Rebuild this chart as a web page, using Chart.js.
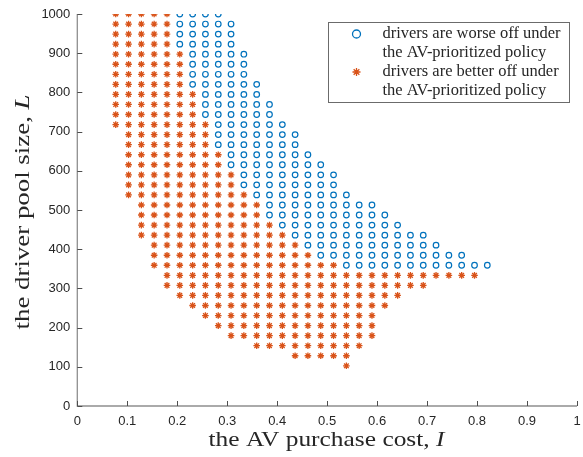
<!DOCTYPE html>
<html>
<head>
<meta charset="utf-8">
<script src="https://cdn.jsdelivr.net/npm/chart.js@4.4.1/dist/chart.umd.min.js"></script>
<style>
  html, body { margin: 0; padding: 0; background: #fff; }
  #wrap { width: 583px; height: 457px; }
</style>
</head>
<body>
<div id="wrap"><canvas id="policyChart" width="583" height="457"></canvas></div>
<script>
// AV purchase cost grid (the columns of the sweep)
const costGrid = [0.0769, 0.1026, 0.1282, 0.1538, 0.1795, 0.2051, 0.2308, 0.2564, 0.2821, 0.3077,
                  0.3333, 0.3590, 0.3846, 0.4103, 0.4359, 0.4615, 0.4872, 0.5128, 0.5385, 0.5641,
                  0.5897, 0.6154, 0.6410, 0.6667, 0.6923, 0.7179, 0.7436, 0.7692, 0.7949, 0.8205];

// driver pool size of each row, top to bottom
const poolSize = [1000, 974.4, 948.7, 923.1, 897.4, 871.8, 846.2, 820.5, 794.9, 769.2,
                  743.6, 717.9, 692.3, 666.7, 641.0, 615.4, 589.7, 564.1, 538.5, 512.8,
                  487.2, 461.5, 435.9, 410.3, 384.6, 359.0, 333.3, 307.7, 282.1, 256.4,
                  230.8, 205.1, 179.5, 153.8, 128.2, 102.6];

// per row: first and last costGrid column with "better off" (stars)
const betterFrom = [0,0,0,0,0,0,0,0,0,0,0,0, 1,1,1,1,1,1,1, 2,2,2,2, 3,3,3, 4,4, 5, 6, 7, 8, 9, 11, 14, 18];
const betterTo   = [4,4,4,4, 5,5,5,5, 6,6,6, 7,7,7, 8,8, 9,9, 10, 11,11, 12, 13, 14, 15, 17,
                    28, 24, 22, 21, 20, 20, 20, 19, 18, 18];
// per row: last costGrid column with "worse off" (circles), -1 = none
const worseTo    = [8, 9,9,9, 10,10,10, 11,11, 12,12, 13, 14,14, 15, 16, 17,17, 18, 20, 21, 22, 24, 25, 27, 29,
                    -1,-1,-1,-1,-1,-1,-1,-1,-1,-1];

const xTickValues = [0, 0.1, 0.2, 0.3, 0.4, 0.5, 0.6, 0.7, 0.8, 0.9, 1];
const xTickLabels = ['0', '0.1', '0.2', '0.3', '0.4', '0.5', '0.6', '0.7', '0.8', '0.9', '1'];
const yTickValues = [0, 100, 200, 300, 400, 500, 600, 700, 800, 900, 1000];
const yTickLabels = ['0', '100', '200', '300', '400', '500', '600', '700', '800', '900', '1000'];

const legendLines = ['drivers are worse off under', 'the AV-prioritized policy',
                     'drivers are better off under', 'the AV-prioritized policy'];

const BLUE = '#0072BD';
const ORANGE = '#D95319';

// build the point lists from the row table
const worsePts = [];
const betterPts = [];
poolSize.forEach((L, r) => {
    for (let c = betterFrom[r]; c <= betterTo[r]; c++) {
        betterPts.push({x: costGrid[c], y: L});
    }
    for (let c = betterTo[r] + 1; c <= worseTo[r]; c++) {
        worsePts.push({x: costGrid[c], y: L});
    }
});

// draw text made of normal/italic pieces, centred on x, stretched to a given width
function drawMixed(ctx, parts, x, y, size, targetW) {
    const fontOf = p => (p[1] ? 'italic ' : '') + size + 'px "Liberation Serif"';
    let total = 0;
    parts.forEach(p => { ctx.font = fontOf(p); total += ctx.measureText(p[0]).width; });
    const sx = targetW / total;
    ctx.save();
    ctx.translate(x - targetW / 2, y);
    ctx.scale(sx, 1);
    ctx.textAlign = 'left';
    let cx = 0;
    parts.forEach(p => {
        ctx.font = fontOf(p);
        ctx.fillText(p[0], cx, 0);
        cx += ctx.measureText(p[0]).width;
    });
    ctx.restore();
}

const matlabAxes = {
    id: 'matlabAxes',
    afterDraw(chart) {
        const {ctx, chartArea: a, scales: {x, y}} = chart;
        ctx.save();
        // axis lines
        ctx.strokeStyle = '#8f8f8f';
        ctx.lineWidth = 1.3;
        ctx.beginPath();
        ctx.moveTo(a.left, a.top);
        ctx.lineTo(a.left, a.bottom);
        ctx.lineTo(a.right, a.bottom);
        ctx.stroke();
        // inward ticks
        ctx.strokeStyle = '#4d4d4d';
        ctx.lineWidth = 1;
        ctx.beginPath();
        xTickValues.forEach(v => {
            const px = Math.round(x.getPixelForValue(v)) + 0.5;
            ctx.moveTo(px, a.bottom);
            ctx.lineTo(px, a.bottom - 5);
        });
        yTickValues.forEach(v => {
            const py = Math.round(y.getPixelForValue(v)) + 0.5;
            ctx.moveTo(a.left, py);
            ctx.lineTo(a.left + 5, py);
        });
        ctx.stroke();

        // axis titles
        ctx.fillStyle = '#262626';
        ctx.textBaseline = 'middle';
        drawMixed(ctx, [['the AV purchase cost, ', false], ['I', true]], 326.5, 440, 21, 236);
        ctx.save();
        ctx.translate(23, 212);
        ctx.rotate(-Math.PI / 2);
        drawMixed(ctx, [['the driver pool size, ', false], ['L', true]], 0, 0, 21, 235);
        ctx.restore();

        // legend
        ctx.fillStyle = '#fff';
        ctx.fillRect(328.5, 22.5, 241, 80);
        ctx.strokeStyle = '#6b6b6b';
        ctx.lineWidth = 1;
        ctx.strokeRect(328.5, 22.5, 241, 80);
        ctx.strokeStyle = BLUE;
        ctx.lineWidth = 1.3;
        ctx.beginPath();
        ctx.arc(356.5, 34, 4, 0, Math.PI * 2);
        ctx.stroke();
        ctx.strokeStyle = ORANGE;
        ctx.beginPath();
        for (let i = 0; i < 4; i++) {
            const ang = i * Math.PI / 4;
            ctx.moveTo(356.5 - 4 * Math.cos(ang), 72 - 4 * Math.sin(ang));
            ctx.lineTo(356.5 + 4 * Math.cos(ang), 72 + 4 * Math.sin(ang));
        }
        ctx.stroke();
        ctx.fillStyle = '#262626';
        const lineY = [34, 52.7, 71.7, 90.3];
        legendLines.forEach((t, i) => {
            ctx.font = '16px "Liberation Serif"';
            const w = ctx.measureText(t).width * 178 / ctx.measureText(legendLines[0]).width;
            drawMixed(ctx, [[t, false]], 382.5 + w / 2, lineY[i], 16, w);
        });
        ctx.restore();
    }
};

new Chart(document.getElementById('policyChart').getContext('2d'), {
    type: 'scatter',
    data: {
        datasets: [
            {
                label: legendLines[0] + ' ' + legendLines[1],
                data: worsePts,
                pointStyle: 'circle',
                pointRadius: 2.8,
                borderWidth: 1.2,
                borderColor: BLUE,
                backgroundColor: 'rgba(0,0,0,0)'
            },
            {
                label: legendLines[2] + ' ' + legendLines[3],
                data: betterPts,
                pointStyle: 'star',
                pointRadius: 3.3,
                borderWidth: 1.3,
                borderColor: ORANGE,
                backgroundColor: ORANGE
            }
        ]
    },
    options: {
        responsive: false,
        animation: false,
        events: [],
        layout: {padding: {top: 14, right: 6, left: 0, bottom: 0}},
        plugins: {
            legend: {display: false},
            tooltip: {enabled: false}
        },
        scales: {
            x: {
                type: 'linear',
                min: 0,
                max: 1,
                grid: {display: false, drawTicks: false},
                border: {display: false},
                afterBuildTicks: s => { s.ticks = xTickValues.map(v => ({value: v})); },
                afterFit: s => { s.height = 51; s.paddingLeft = 0; s.paddingRight = 0; },
                ticks: {
                    padding: 8,
                    color: '#262626',
                    font: {family: '"Liberation Sans"', size: 13},
                    maxRotation: 0,
                    callback: (v) => xTickLabels[xTickValues.indexOf(v)]
                }
            },
            y: {
                type: 'linear',
                min: 0,
                max: 1000,
                grid: {display: false, drawTicks: false},
                border: {display: false},
                afterBuildTicks: s => { s.ticks = yTickValues.map(v => ({value: v})); },
                afterFit: s => { s.width = 77.3; s.paddingTop = 0; s.paddingBottom = 0; },
                ticks: {
                    padding: 7,
                    color: '#262626',
                    font: {family: '"Liberation Sans"', size: 13},
                    callback: (v) => yTickLabels[yTickValues.indexOf(v)]
                }
            }
        }
    },
    plugins: [matlabAxes]
});
</script>
</body>
</html>
